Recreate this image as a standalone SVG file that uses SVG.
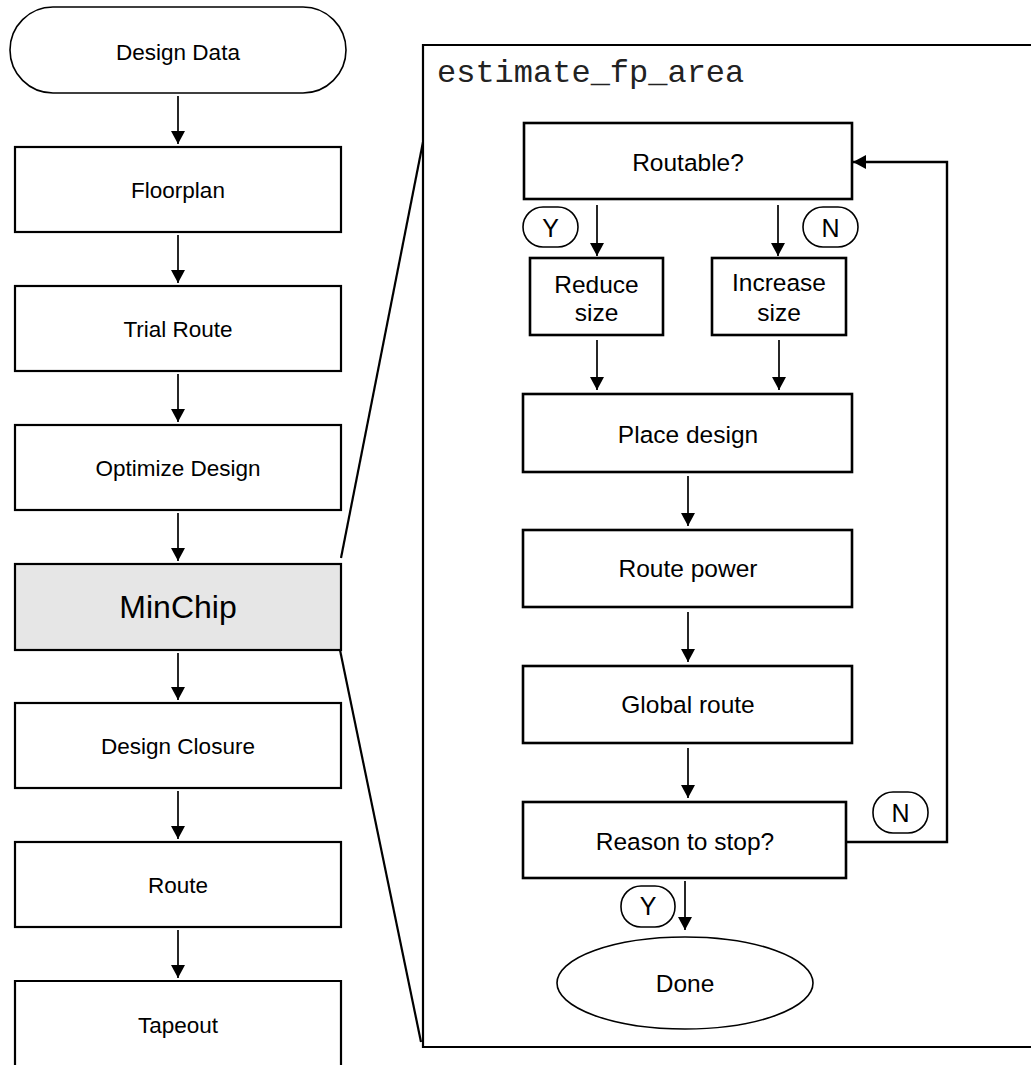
<svg xmlns="http://www.w3.org/2000/svg" width="1031" height="1065" viewBox="0 0 1031 1065">
<style>
.bx{fill:#fff;stroke:#000;stroke-width:2.2}
.ib{fill:#fff;stroke:#000;stroke-width:2.6}
.pill{fill:#fff;stroke:#000;stroke-width:1.6}
.t{font-family:"Liberation Sans",Arial,sans-serif;font-size:22.5px;fill:#000;text-anchor:middle}
.it{font-family:"Liberation Sans",Arial,sans-serif;font-size:24.5px;fill:#000;text-anchor:middle}
.big{font-family:"Liberation Sans",Arial,sans-serif;font-size:32px;fill:#000;text-anchor:middle}
.yn{font-family:"Liberation Sans",Arial,sans-serif;font-size:25px;fill:#000;text-anchor:middle}
.mono{font-family:"Liberation Mono","Courier New",monospace;font-size:32px;fill:#222}
.ar{fill:none;stroke:#000;stroke-width:1.7;marker-end:url(#ah)}
.ln{fill:none;stroke:#000;stroke-width:2.2}
</style>
<defs>
<marker id="ah" markerUnits="userSpaceOnUse" viewBox="0 0 13 14" refX="13" refY="7" markerWidth="13" markerHeight="14" orient="auto">
<path d="M0,0 L13,7 L0,14 z" fill="#000"/>
</marker>
</defs>

<g id="frame">
<path class="ln" d="M1031,45 H423 V1047 H1031" stroke-width="2.6"/>
<text class="mono" x="437" y="82">estimate_fp_area</text>
</g>

<g id="design-data"><rect x="10" y="7" width="336" height="86" rx="43" class="pill" stroke-width="1.4"/><text class="t" x="178" y="60">Design Data</text></g>
<g id="floorplan"><rect class="bx" x="15" y="147" width="326" height="85"/><text class="t" x="178" y="197.5">Floorplan</text></g>
<g id="trial-route"><rect class="bx" x="15" y="286" width="326" height="85"/><text class="t" x="178" y="336.5">Trial Route</text></g>
<g id="optimize-design"><rect class="bx" x="15" y="425" width="326" height="85"/><text class="t" x="178" y="476">Optimize Design</text></g>
<g id="minchip"><rect class="bx" x="15" y="564" width="326" height="86" style="fill:#e6e6e6"/><text class="big" x="178" y="618">MinChip</text></g>
<g id="design-closure"><rect class="bx" x="15" y="703" width="326" height="85"/><text class="t" x="178" y="754">Design Closure</text></g>
<g id="route"><rect class="bx" x="15" y="842" width="326" height="85"/><text class="t" x="178" y="893">Route</text></g>
<g id="tapeout"><path class="bx" d="M15,1066 V981 H341 V1066"/><text class="t" x="178" y="1033">Tapeout</text></g>

<g id="routable"><rect class="ib" x="524" y="123" width="328" height="76"/><text class="it" x="688" y="170.5">Routable?</text></g>
<g id="reduce-size"><rect class="ib" x="530" y="258" width="133" height="77"/><text class="it" x="596.5" y="293">Reduce</text><text class="it" x="596.5" y="320.5">size</text></g>
<g id="increase-size"><rect class="ib" x="712" y="258" width="134" height="77"/><text class="it" x="779" y="291">Increase</text><text class="it" x="779" y="320.5">size</text></g>
<g id="place-design"><rect class="ib" x="523" y="394" width="329" height="78"/><text class="it" x="688" y="443">Place design</text></g>
<g id="route-power"><rect class="ib" x="523" y="530" width="329" height="77"/><text class="it" x="688" y="577">Route power</text></g>
<g id="global-route"><rect class="ib" x="523" y="666" width="329" height="77"/><text class="it" x="688" y="713">Global route</text></g>
<g id="reason-to-stop"><rect class="ib" x="523" y="802" width="323" height="76"/><text class="it" x="685" y="850">Reason to stop?</text></g>
<g id="done"><ellipse cx="685" cy="983" rx="128" ry="46" class="pill" stroke-width="2"/><text class="it" x="685" y="992">Done</text></g>

<g id="labels">
<rect class="pill" x="523" y="207" width="55" height="40" rx="20"/><text class="yn" x="550.5" y="236.5">Y</text>
<rect class="pill" x="803" y="207" width="55" height="40" rx="20"/><text class="yn" x="830.5" y="236.5">N</text>
<rect class="pill" x="873" y="792" width="55" height="41" rx="20"/><text class="yn" x="900.5" y="822">N</text>
<rect class="pill" x="621" y="886" width="54" height="41" rx="20"/><text class="yn" x="648" y="915">Y</text>
</g>

<g id="connectors">
<path class="ln" d="M341,558 L423,142"/>
<path class="ln" d="M340,650 L421,1042"/>
<path class="ar" d="M178,96 V144"/>
<path class="ar" d="M178,235 V283"/>
<path class="ar" d="M178,374 V422"/>
<path class="ar" d="M178,513 V561"/>
<path class="ar" d="M178,653 V700"/>
<path class="ar" d="M178,791 V839"/>
<path class="ar" d="M178,930 V978"/>
<path class="ar" d="M597,205 V256"/>
<path class="ar" d="M778,205 V256"/>
<path class="ar" d="M597,340 V390"/>
<path class="ar" d="M779,340 V390"/>
<path class="ar" d="M688,476 V526"/>
<path class="ar" d="M688,612 V662"/>
<path class="ar" d="M688,748 V798"/>
<path class="ar" d="M685,881 V930"/>
<path class="ar" d="M846,842 H947 V162 H853" style="stroke-width:2.4"/>
</g>
</svg>
